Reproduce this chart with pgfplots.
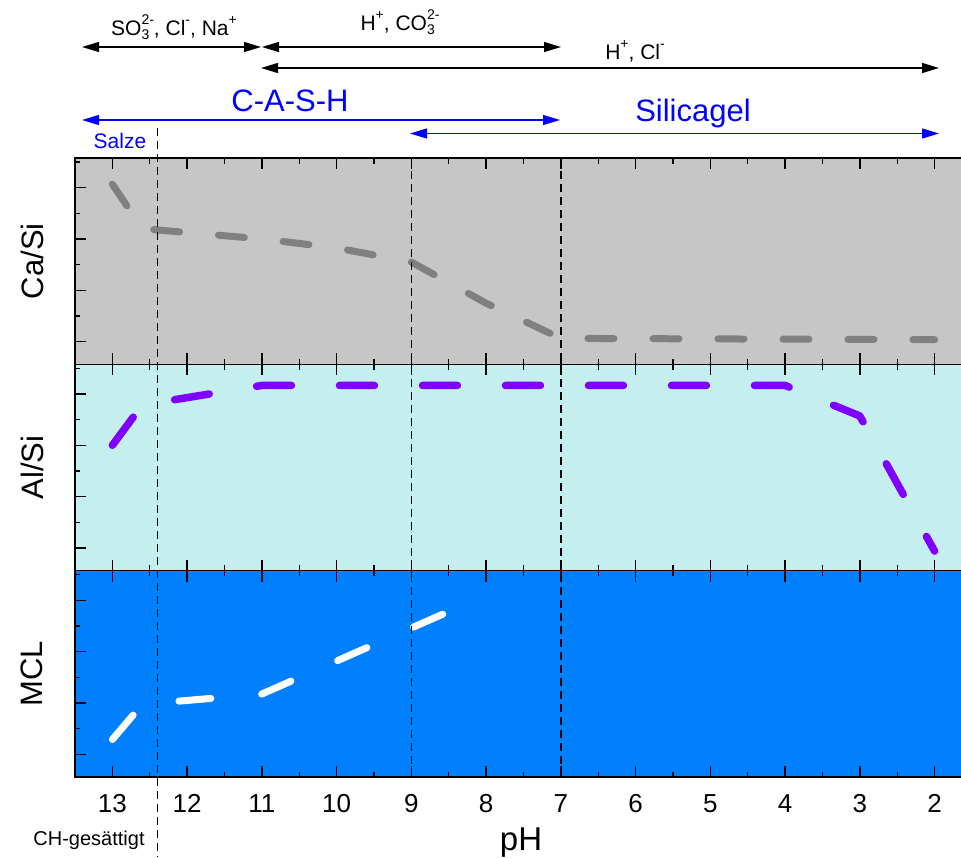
\documentclass[border=0pt]{standalone}
\usepackage{pgfplots}
\pgfplotsset{compat=1.18}
\usepackage{fontspec}
\setmainfont{Liberation Sans}
\usetikzlibrary{arrows.meta}

\definecolor{bgtop}{RGB}{198,198,198}
\definecolor{bgmid}{RGB}{197,238,238}
\definecolor{bgbot}{RGB}{0,128,255}
\definecolor{lgray}{RGB}{128,128,128}
\definecolor{lpurple}{RGB}{128,0,255}
\definecolor{ablue}{RGB}{0,0,255}

\newcommand\subsup[2]{\rlap{\raisebox{-0.42ex}{\fontsize{14}{14}\selectfont #1}}\raisebox{0.95ex}{\fontsize{14}{14}\selectfont #2}}
\newcommand\sups[1]{\raisebox{0.95ex}{\fontsize{14}{14}\selectfont #1}}

\pgfplotsset{
  panel/.style={
    scale only axis, width=897pt, height=206.33pt,
    anchor=south west,
    xmin=1.5, xmax=13.5, x dir=reverse,
    ymin=0.12, ymax=8.15,
    xtick={2,...,13}, minor xtick={2.5,3.5,...,12.5},
    ytick={1,3,5,7}, minor ytick={2,4,6,8}, yticklabels={},
    tick align=inside, major tick length=11pt, minor tick length=5.5pt,
    every tick/.style={black, line width=1.3pt},
    axis line style={line width=1.3pt, black},
    /pgf/number format/assume math mode=true,
    every axis y label/.style={at={(axis description cs:-0.048,0.5)}, rotate=90, anchor=center, font=\fontsize{31}{36}\selectfont},
  },
  dline/.style={line width=7pt, line cap=round, line join=round},
}

\begin{document}
\begin{tikzpicture}
% ---- Ca/Si ----
\begin{axis}[panel, at={(75pt,-364.33pt)}, axis background/.style={fill=bgtop}, xticklabels={}, ylabel={Ca/Si}]
\addplot[lgray, dline, dash pattern=on 26pt off 39pt] coordinates {
(13,7.13) (12.6,5.40) (11,5.0) (10,4.65) (9,4.10) (8,2.5) (7,1.13) (2,1.08)};
\end{axis}
% ---- Al/Si ----
\begin{axis}[panel, at={(75pt,-570.67pt)}, axis background/.style={fill=bgmid}, xticklabels={}, ylabel={Al/Si}]
\addplot[lpurple, dline, line width=7.5pt, dash pattern=on 35pt off 48pt] coordinates {
(13,5.0) (12.6,6.57) (11,7.33) (4,7.33) (3,6.14) (2,0.88)};
\end{axis}
% ---- MCL ----
\begin{axis}[panel, at={(75pt,-777pt)}, axis background/.style={fill=bgbot}, ylabel={MCL},
  xticklabel style={font=\fontsize{26}{31}\selectfont, yshift=-14pt}]
\addplot[white, dline, dash pattern=on 32pt off 51pt] coordinates {
(13,1.58) (12.6,2.95) (11,3.35) (8.5,6.56)};
\end{axis}

\begin{scope}[x=1pt, y=-1pt]
% vertical dashed separators
\draw[black, line width=1.3pt, dash pattern=on 8pt off 5pt] (157.2,128) -- (157.2,857);
\draw[black, line width=1.3pt, dash pattern=on 8pt off 5pt] (411.4,158) -- (411.4,777);
\draw[black, line width=1.3pt, dash pattern=on 8pt off 5pt] (560.9,158) -- (560.9,777);
% black arrows
\draw[black, line width=1.3pt, {Triangle[length=17pt,width=10pt]}-{Triangle[length=17pt,width=10pt]}] (82,47) -- (261,47);
\draw[black, line width=1.3pt, {Triangle[length=17pt,width=10pt]}-{Triangle[length=17pt,width=10pt]}] (262,47) -- (561,47);
\draw[black, line width=1.3pt, {Triangle[length=17pt,width=10pt]}-{Triangle[length=17pt,width=10pt]}] (261,68) -- (939,68);
% blue arrows
\draw[ablue, line width=1.3pt, {Triangle[length=17pt,width=10pt]}-{Triangle[length=17pt,width=10pt]}] (82,120) -- (560,120);
\draw[ablue, line width=1.3pt, {Triangle[length=17pt,width=10pt]}-{Triangle[length=17pt,width=10pt]}] (410,133.5) -- (939,133.5);
% texts
\node[anchor=base, inner sep=0pt, font=\fontsize{21}{25}\selectfont] at (174,35) {SO\subsup{3}{2-}, Cl\sups{-}, Na\sups{+}};
\node[anchor=base, inner sep=0pt, font=\fontsize{21}{25}\selectfont] at (400,30) {H\sups{+}, CO\subsup{3}{2-}};
\node[anchor=base, inner sep=0pt, font=\fontsize{21}{25}\selectfont] at (635,59) {H\sups{+}, Cl\sups{-}};
\node[anchor=base, inner sep=0pt, text=ablue, font=\fontsize{31}{36}\selectfont] at (290,111) {C-A-S-H};
\node[anchor=base, inner sep=0pt, text=ablue, font=\fontsize{31}{36}\selectfont] at (693,121) {Silicagel};
\node[anchor=base, inner sep=0pt, text=ablue, font=\fontsize{21}{25}\selectfont] at (120,148) {Salze};
\node[anchor=base, inner sep=0pt, font=\fontsize{20}{24}\selectfont] at (89,845) {CH-gesättigt};
\node[anchor=base, inner sep=0pt, font=\fontsize{33}{38}\selectfont] at (521,850) {pH};
\end{scope}
\pgfresetboundingbox
\useasboundingbox (0pt,0pt) rectangle (961pt,-857pt);
\end{tikzpicture}
\end{document}
